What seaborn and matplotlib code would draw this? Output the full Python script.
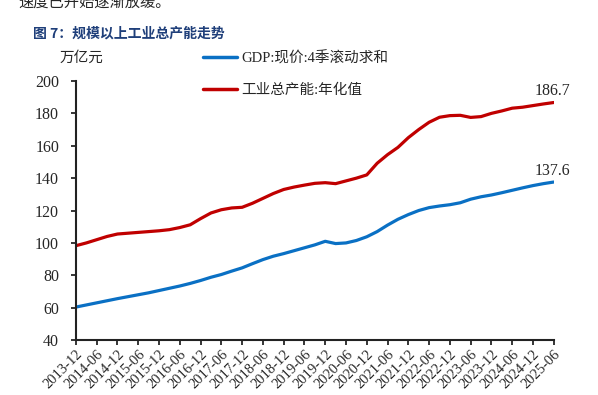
import numpy as np
import pandas as pd
import matplotlib.pyplot as plt
import seaborn as sns

# quarterly dates, 2013-12 .. 2025-06
quarters = pd.period_range("2013Q4", "2025Q2", freq="Q")
dates = [q.end_time.strftime("%Y-%m") for q in quarters]

# GDP: current price, rolling 4-quarter sum (trillion yuan)
gdp = [60.4, 61.7, 63.0, 64.3, 65.6, 66.8, 68.0, 69.2, 70.6, 72.0,
       73.4, 75.0, 76.8, 78.8, 80.5, 82.6, 84.6, 87.2, 89.7, 91.8,
       93.4, 95.2, 97.0, 98.8, 101.0, 99.6, 100.0, 101.5, 103.8, 107.0,
       111.0, 114.6, 117.5, 120.0, 121.8, 122.8, 123.6, 124.8, 127.0, 128.5,
       129.6, 131.0, 132.5, 134.0, 135.4, 136.6, 137.6]

# industrial capacity, annualized (trillion yuan)
capacity = [98.3, 100.0, 102.0, 104.0, 105.5, 106.0, 106.5, 107.0, 107.5, 108.2,
            109.5, 111.2, 115.0, 118.5, 120.5, 121.6, 122.0, 124.5, 127.5, 130.5,
            133.0, 134.5, 135.7, 136.8, 137.2, 136.6, 138.3, 140.0, 142.0, 149.2,
            154.5, 159.0, 165.0, 170.0, 174.5, 177.6, 178.6, 178.8, 177.5, 178.0,
            180.0, 181.5, 183.2, 183.8, 184.8, 185.8, 186.7]

gdp_label = "GDP:现价:4季滚动求和"
cap_label = "工业总产能:年化值"

sns.set_style("ticks")
plt.rcParams["font.family"] = ["Liberation Serif", "Noto Sans CJK SC"]
plt.rcParams["axes.unicode_minus"] = False

df = pd.DataFrame({"idx": np.arange(len(dates)), "date": dates,
                   gdp_label: gdp, cap_label: capacity})
long = df.melt(id_vars=["idx", "date"], var_name="series", value_name="value")

fig = plt.figure(figsize=(5.98, 3.95), dpi=100)
ax = fig.add_axes([0.127, 0.139, 0.799, 0.656])

sns.lineplot(data=long, x="idx", y="value", hue="series",
             palette={gdp_label: "#0A70C4", cap_label: "#C00000"},
             linewidth=2.3, ax=ax)

ax.set_xlim(0, len(dates) - 1)
ax.set_ylim(40, 200)
ax.set_yticks(range(40, 201, 20))
ax.set_xticks(df["idx"][::2])
ax.set_xticklabels(df["date"][::2], rotation=45, ha="right",
                   rotation_mode="anchor", fontsize=10.5)
ax.tick_params(axis="y", labelsize=11.5, length=3.6, width=1.3, pad=8.5)
ax.tick_params(axis="x", length=3.6, width=1.3, pad=2)
ax.set_xlabel("")
ax.set_ylabel("")
for s in ["left", "bottom"]:
    ax.spines[s].set_linewidth(1.5)
    ax.spines[s].set_color("#222222")
sns.despine(ax=ax)

# end-point value labels
ax.annotate(f"{capacity[-1]:.1f}", (len(dates) - 1, capacity[-1]),
            xytext=(-1, 2.5), textcoords="offset points",
            ha="center", va="bottom", fontsize=11.5)
ax.annotate(f"{gdp[-1]:.1f}", (len(dates) - 1, gdp[-1]),
            xytext=(-1, 2.5), textcoords="offset points",
            ha="center", va="bottom", fontsize=11.5)

leg = ax.legend(loc="upper left", bbox_to_anchor=(0.33, 0.885),
                bbox_transform=fig.transFigure, frameon=False,
                fontsize=10.5, handlelength=2.3, labelspacing=1.25,
                handletextpad=0.3, borderaxespad=0)
for line in leg.get_lines():
    line.set_linewidth(2.5)

fig.text(0.1, 0.853, "万亿元", fontsize=10.5, ha="left", va="center",
         family=["Noto Sans CJK SC"])
fig.text(0.055, 0.915, "图 7：规模以上工业总产能走势", fontsize=10,
         color="#1F3F7A", fontweight="bold", ha="left", va="center",
         family=["Noto Sans CJK SC"])
fig.text(0.03, 0.995, "速度已开始逐渐放缓。", fontsize=11,
         ha="left", va="center", family=["Noto Sans CJK SC"])

fig.savefig("out.png", dpi=100)
